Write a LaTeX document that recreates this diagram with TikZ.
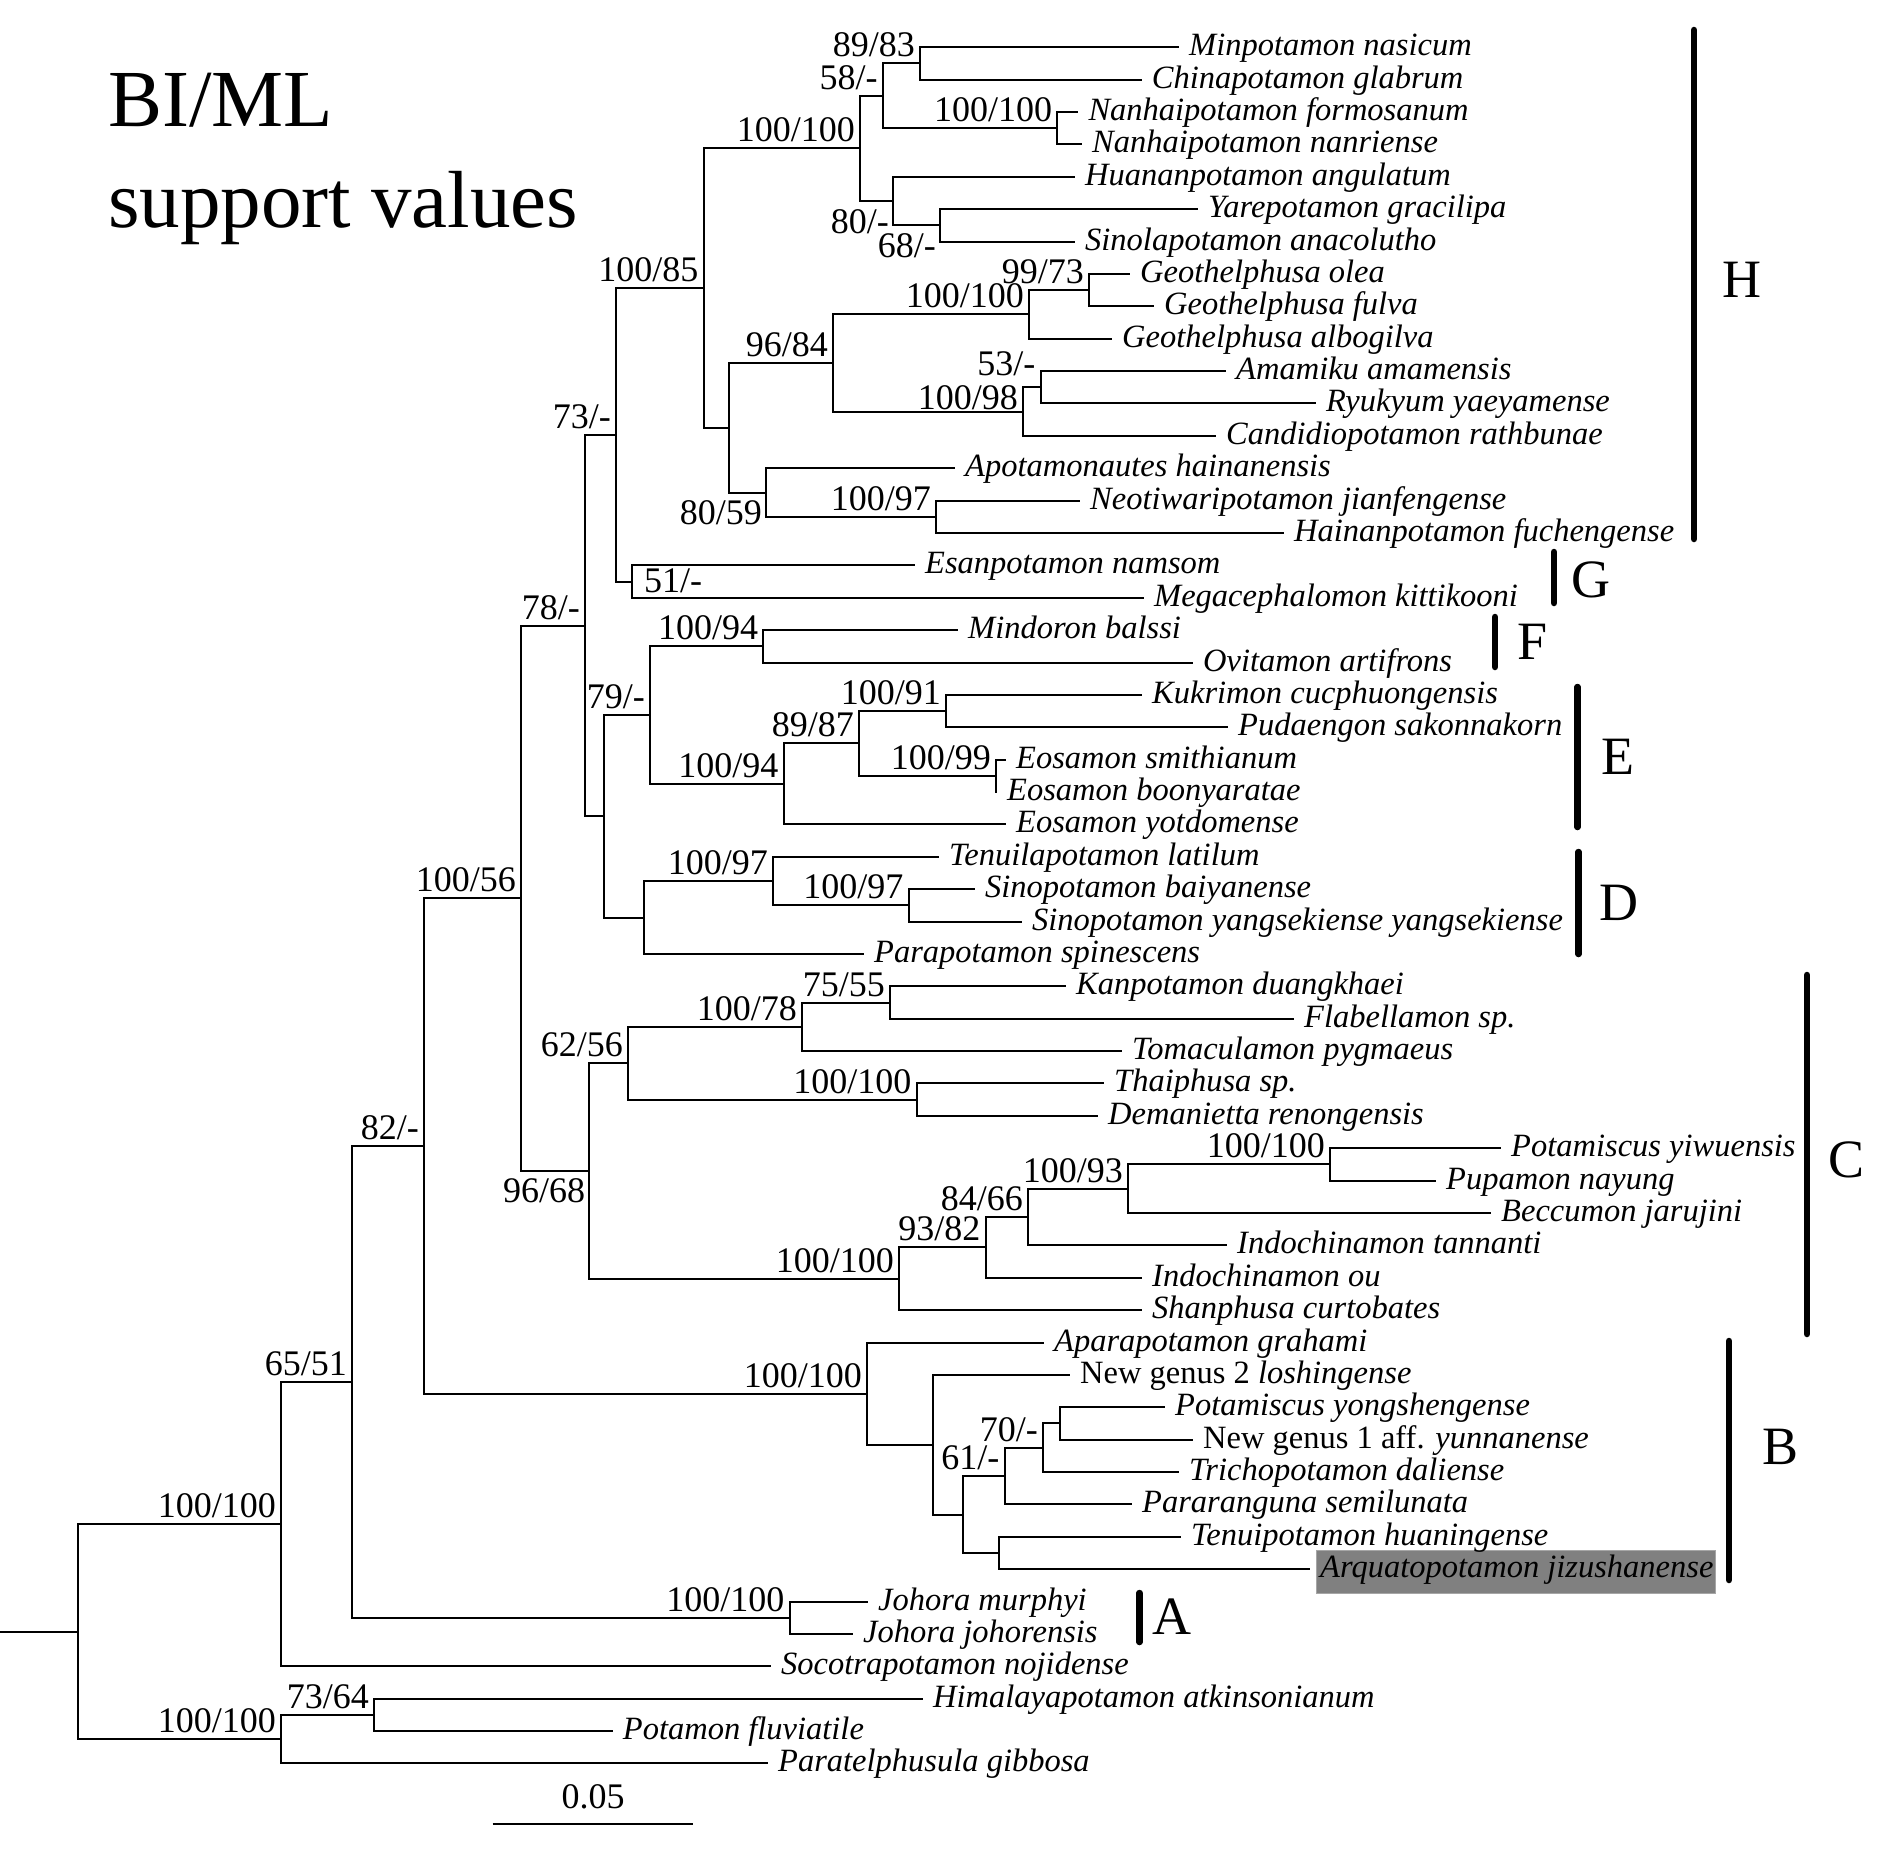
\documentclass[tikz,border=0pt]{standalone}
\usepackage{fontspec}
\setmainfont{Liberation Serif}
\newcommand{\leaffont}{\fontsize{32.5}{36}\selectfont\itshape}
\newcommand{\supfont}{\fontsize{36}{40}\selectfont}
\newcommand{\cladefont}{\fontsize{54}{60}\selectfont}
\newcommand{\titlefont}{\fontsize{81}{100}\selectfont}
\definecolor{boxgray}{HTML}{808080}
\begin{document}
\begin{tikzpicture}[x=1pt,y=-1pt,
  br/.style={line width=2pt},
  leaf/.style={anchor=base west,inner sep=0pt,font=\leaffont},
  supa/.style={anchor=base east,inner sep=0pt,font=\supfont},
  supb/.style={anchor=base east,inner sep=0pt,font=\supfont},
  cbar/.style={line width=6.5pt,line cap=round},
  clade/.style={anchor=base west,inner sep=0pt,font=\cladefont}]
\useasboundingbox (0,0) rectangle (1890,1852);
\fill[white] (0,0) rectangle (1890,1852);

% title
\node[anchor=base west,inner sep=0pt,font=\titlefont] (title1) at (108,126.6) {BI/ML};
\node[anchor=base west,inner sep=0pt,font=\titlefont] (title2) at (108,227) {support values};

% highlight box
\filldraw[fill=boxgray,draw=gray!70,line width=1pt] (1316,1550.5) rectangle (1715,1593.5);

\begin{scope}[y=-32.38pt,yshift=-47.3pt]
% internal nodes
\coordinate (r0) at (0,48.9287);
\coordinate (R) at (78,48.9287);
\coordinate (N1) at (281,45.6074);
\coordinate (nOut) at (281,52.25);
\coordinate (n7364) at (374,51.5);
\coordinate (N2) at (352,41.2148);
\coordinate (nJ) at (789.5,48.5);
\coordinate (N3) at (424,33.9297);
\coordinate (N4) at (521,26.2813);
\coordinate (nB) at (867,41.5781);
\coordinate (nB2) at (932.5,43.1563);
\coordinate (nB3) at (963,45.3125);
\coordinate (n61) at (1004.5,44.125);
\coordinate (n70) at (1043,43.25);
\coordinate (nB5) at (1060,42.5);
\coordinate (nB4) at (999,46.5);
\coordinate (n78) at (585,17.8594);
\coordinate (n73) at (616,11.9688);
\coordinate (n85) at (703.5,7.4375);
\coordinate (nA) at (860,3.125);
\coordinate (n58) at (882.7,1.5);
\coordinate (n89) at (920,0.5);
\coordinate (nNan) at (1057.3,2.5);
\coordinate (n80) at (893,4.75);
\coordinate (n68) at (940,5.5);
\coordinate (nU1) at (728.5,11.75);
\coordinate (n96) at (833,9.75);
\coordinate (nGeo) at (1029,8.25);
\coordinate (n99) at (1089,7.5);
\coordinate (n98) at (1023,11.25);
\coordinate (n53) at (1040.6,10.5);
\coordinate (n8059) at (766,13.75);
\coordinate (n97) at (936,14.5);
\coordinate (n51) at (631.7,16.5);
\coordinate (nU2) at (604,23.75);
\coordinate (n79) at (650,20.625);
\coordinate (nF) at (763.3,18.5);
\coordinate (nE) at (783.5,22.75);
\coordinate (n87) at (859,21.5);
\coordinate (n91) at (946,20.5);
\coordinate (n99b) at (996,22.5);
\coordinate (nD) at (644,26.875);
\coordinate (n97a) at (773,25.75);
\coordinate (n97b) at (908.5,26.5);
\coordinate (n9668) at (589.4,34.7031);
\coordinate (n62) at (628,31.375);
\coordinate (n7) at (802,30.25);
\coordinate (n55) at (890,29.5);
\coordinate (nThai) at (916.5,32.5);
\coordinate (nC2) at (899,38.0313);
\coordinate (n82) at (985.6,37.0625);
\coordinate (n66) at (1028,36.125);
\coordinate (n93) at (1128,35.25);
\coordinate (nPP) at (1330,34.5);

% leaf ends
\coordinate (e0) at (1179,0);
\coordinate (e1) at (1141.7,1);
\coordinate (e2) at (1078.3,2);
\coordinate (e3) at (1082,3);
\coordinate (e4) at (1075,4);
\coordinate (e5) at (1198,5);
\coordinate (e6) at (1075,6);
\coordinate (e7) at (1130,7);
\coordinate (e8) at (1154,8);
\coordinate (e9) at (1112,9);
\coordinate (e10) at (1226,10);
\coordinate (e11) at (1316,11);
\coordinate (e12) at (1216,12);
\coordinate (e13) at (955,13);
\coordinate (e14) at (1080,14);
\coordinate (e15) at (1284,15);
\coordinate (e16) at (915,16);
\coordinate (e17) at (1144,17);
\coordinate (e18) at (958,18);
\coordinate (e19) at (1193,19);
\coordinate (e20) at (1142,20);
\coordinate (e21) at (1228,21);
\coordinate (e22) at (1006,22);
\coordinate (e23) at (997,23);
\coordinate (e24) at (1006,24);
\coordinate (e25) at (939,25);
\coordinate (e26) at (975,26);
\coordinate (e27) at (1022,27);
\coordinate (e28) at (864,28);
\coordinate (e29) at (1066,29);
\coordinate (e30) at (1294,30);
\coordinate (e31) at (1122,31);
\coordinate (e32) at (1104,32);
\coordinate (e33) at (1098,33);
\coordinate (e34) at (1501,34);
\coordinate (e35) at (1436,35);
\coordinate (e36) at (1491,36);
\coordinate (e37) at (1227,37);
\coordinate (e38) at (1142,38);
\coordinate (e39) at (1142,39);
\coordinate (e40) at (1044,40);
\coordinate (e41) at (1070,41);
\coordinate (e42) at (1165,42);
\coordinate (e43) at (1193,43);
\coordinate (e44) at (1179,44);
\coordinate (e45) at (1132,45);
\coordinate (e46) at (1181,46);
\coordinate (e47) at (1310,47);
\coordinate (e48) at (868,48);
\coordinate (e49) at (853,49);
\coordinate (e50) at (771,50);
\coordinate (e51) at (923,51);
\coordinate (e52) at (612.7,52);
\coordinate (e53) at (768,53);

% branches
\draw[br] (r0) -- (R);
\foreach \p/\c in {R/N1,R/nOut,N1/N2,N1/e50,N2/N3,N2/nJ,N3/N4,N3/nB,N4/n78,N4/n9668,
  n78/n73,n78/nU2,n73/n85,n73/n51,n85/nA,n85/nU1,nA/n58,nA/n80,n58/n89,n58/nNan,
  n89/e0,n89/e1,nNan/e2,nNan/e3,n80/e4,n80/n68,n68/e5,n68/e6,nU1/n96,nU1/n8059,
  n96/nGeo,n96/n98,nGeo/n99,nGeo/e9,n99/e7,n99/e8,n98/n53,n98/e12,n53/e10,n53/e11,
  n8059/e13,n8059/n97,n97/e14,n97/e15,n51/e16,n51/e17,nU2/n79,nU2/nD,n79/nF,n79/nE,
  nF/e18,nF/e19,nE/n87,nE/e24,n87/n91,n87/n99b,n91/e20,n91/e21,n99b/e22,n99b/e23,
  nD/n97a,nD/e28,n97a/e25,n97a/n97b,n97b/e26,n97b/e27,n9668/n62,n9668/nC2,
  n62/n7,n62/nThai,n7/n55,n7/e31,n55/e29,n55/e30,nThai/e32,nThai/e33,
  nC2/n82,nC2/e39,n82/n66,n82/e38,n66/n93,n66/e37,n93/nPP,n93/e36,nPP/e34,nPP/e35,
  nB/e40,nB/nB2,nB2/e41,nB2/nB3,nB3/n61,nB3/nB4,n61/n70,n61/e45,n70/nB5,n70/e44,
  nB5/e42,nB5/e43,nB4/e46,nB4/e47,nJ/e48,nJ/e49,nOut/n7364,nOut/e53,n7364/e51,n7364/e52}
  {\draw[br] (\p) |- (\c);}

% leaf labels
\foreach \i/\t in {0/Minpotamon nasicum,1/Chinapotamon glabrum,2/Nanhaipotamon formosanum,
  3/Nanhaipotamon nanriense,4/Huananpotamon angulatum,5/Yarepotamon gracilipa,
  6/Sinolapotamon anacolutho,7/Geothelphusa olea,8/Geothelphusa fulva,9/Geothelphusa albogilva,
  10/Amamiku amamensis,11/Ryukyum yaeyamense,12/Candidiopotamon rathbunae,
  13/Apotamonautes hainanensis,14/Neotiwaripotamon jianfengense,15/Hainanpotamon fuchengense,
  16/Esanpotamon namsom,17/Megacephalomon kittikooni,18/Mindoron balssi,19/Ovitamon artifrons,
  20/Kukrimon cucphuongensis,21/Pudaengon sakonnakorn,22/Eosamon smithianum,
  23/Eosamon boonyaratae,24/Eosamon yotdomense,25/Tenuilapotamon latilum,
  26/Sinopotamon baiyanense,27/Sinopotamon yangsekiense yangsekiense,28/Parapotamon spinescens,
  29/Kanpotamon duangkhaei,30/Flabellamon sp.,31/Tomaculamon pygmaeus,32/Thaiphusa sp.,
  33/Demanietta renongensis,34/Potamiscus yiwuensis,35/Pupamon nayung,36/Beccumon jarujini,
  37/Indochinamon tannanti,38/Indochinamon ou,39/Shanphusa curtobates,40/Aparapotamon grahami,
  42/Potamiscus yongshengense,44/Trichopotamon daliense,45/Pararanguna semilunata,
  46/Tenuipotamon huaningense,47/Arquatopotamon jizushanense,48/Johora murphyi,
  49/Johora johorensis,50/Socotrapotamon nojidense,51/Himalayapotamon atkinsonianum,
  52/Potamon fluviatile,53/Paratelphusula gibbosa}
  {\node[leaf] (t\i) at ([xshift=10pt,yshift=-8.5pt]e\i) {\t};}
\node[leaf] (t41) at ([xshift=10pt,yshift=-8.5pt]e41) {{\upshape New genus 2} loshingense};
\node[leaf] (t43) at ([xshift=10pt,yshift=-8.5pt]e43) {{\upshape New genus 1 aff.} yunnanense};

% support values (above the stem)
\foreach \n/\t in {n89/89\slash 83,n58/58\slash -,nA/100\slash 100,nNan/100\slash 100,
  n85/100\slash 85,n96/96\slash 84,nGeo/100\slash 100,n99/99\slash 73,
  n97/100\slash 97,n73/73\slash -,n78/78\slash -,n79/79\slash -,
  nF/100\slash 94,nE/100\slash 94,n87/89\slash 87,n91/100\slash 91,n99b/100\slash 99,
  n97a/100\slash 97,n97b/100\slash 97,N4/100\slash 56,n62/62\slash 56,n7/100\slash 78,
  n55/75\slash 55,nThai/100\slash 100,nC2/100\slash 100,n82/93\slash 82,n66/84\slash 66,
  n93/100\slash 93,nPP/100\slash 100,nB/100\slash 100,n61/61\slash -,n70/70\slash -,
  N3/82\slash -,nJ/100\slash 100,N2/65\slash 51,N1/100\slash 100,nOut/100\slash 100,
  n7364/73\slash 64}
  {\node[supa] (s\n) at ([xshift=-5pt,yshift=6.5pt]\n) {\t};}
\node[supa] (sn98) at ([xshift=-5pt,yshift=2.5pt]n98) {100/98};
\node[supa] (sn53) at ([xshift=-5pt,yshift=12pt]n53) {53/-};
% support values (below the stem)
\foreach \n/\t in {n80/80\slash -,n68/68\slash -,n8059/80\slash 59,n9668/96\slash 68}
  {\node[supb] (s\n) at ([xshift=-4pt,yshift=-32pt]\n) {\t};}
\node[anchor=base west,inner sep=0pt,font=\supfont] (sn51) at ([xshift=12.3pt,yshift=-11.4pt]n51) {51/-};
\end{scope}

% clade bars and letters
\draw[cbar] (1694,30) -- (1694,539);
\node[clade] (cH) at (1722,297) {H};
\draw[cbar] (1554,552) -- (1554,603);
\node[clade] (cG) at (1571,597) {G};
\draw[cbar] (1495,617) -- (1495,667);
\node[clade] (cF) at (1517,659.5) {F};
\draw[cbar] (1577.5,687) -- (1577.5,827);
\node[clade] (cE) at (1601.5,774) {E};
\draw[cbar] (1578.6,852) -- (1578.6,954);
\node[clade] (cD) at (1599.5,920.5) {D};
\draw[cbar] (1807,975) -- (1807,1334);
\node[clade] (cC) at (1828.5,1177.5) {C};
\draw[cbar] (1729,1341) -- (1729,1580);
\node[clade] (cB) at (1762,1464.5) {B};
\draw[cbar] (1139.5,1593) -- (1139.5,1642);
\node[clade] (cA) at (1152,1634.5) {A};

% scale bar
\coordinate (sb1) at (492.7,1824);
\coordinate (sb2) at (693.3,1824);
\draw[br] (sb1) -- (sb2);
\node[anchor=base,inner sep=0pt,font=\supfont] (sbl) at (593,1808.3) {0.05};
\end{tikzpicture}
\end{document}
